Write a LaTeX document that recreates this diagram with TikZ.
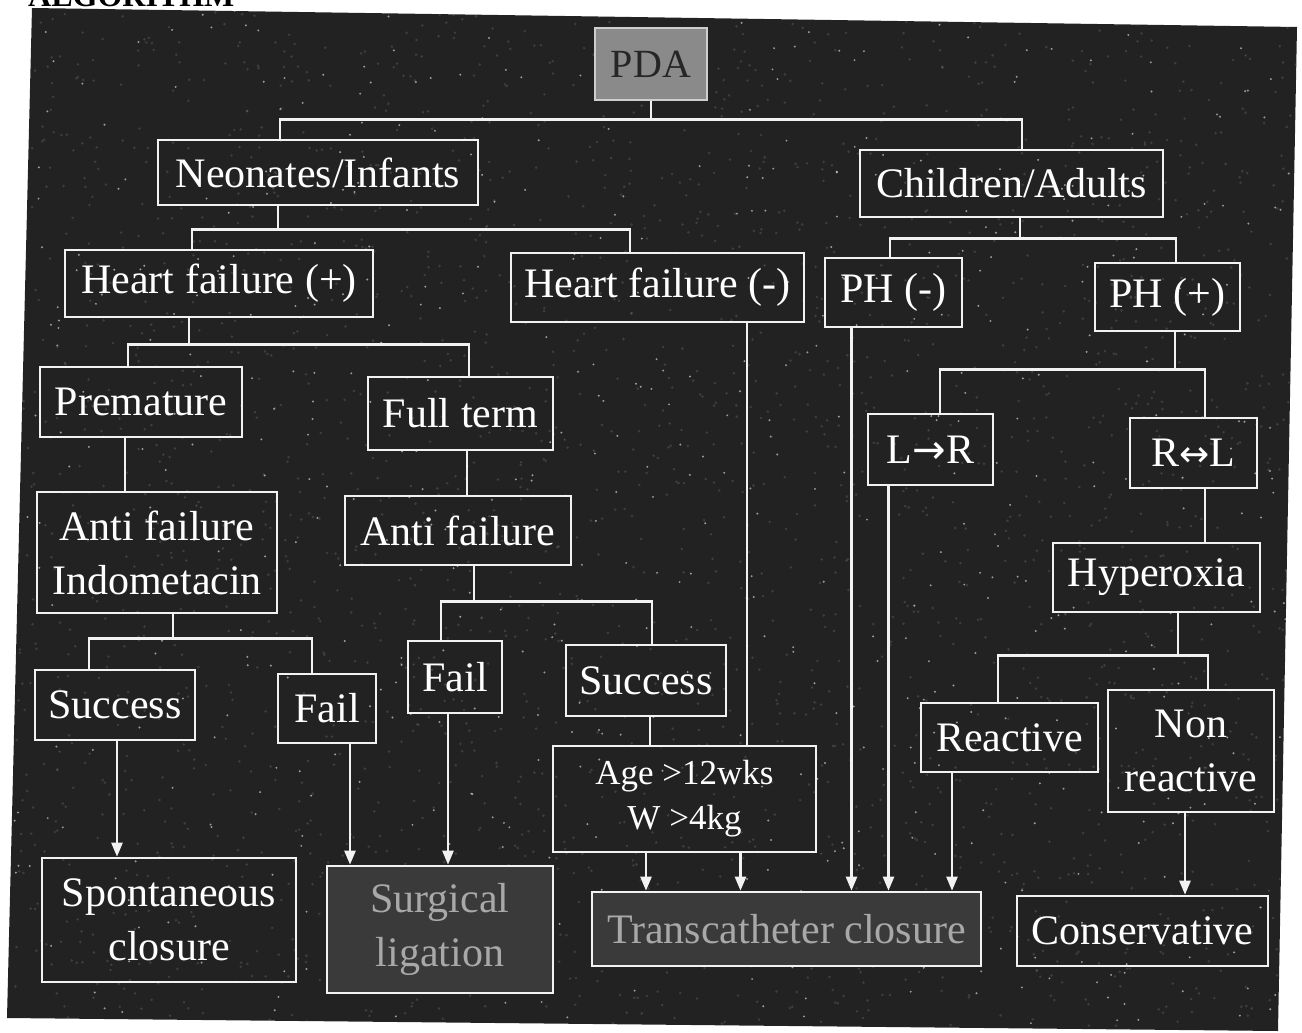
\documentclass[tikz,border=0pt]{standalone}
\usepackage{fontspec}
\setmainfont{Liberation Serif}
\newfontfamily\arrowfont{DejaVu Sans}
\usetikzlibrary{arrows.meta}
\definecolor{panel}{HTML}{222222}
\definecolor{linec}{HTML}{F2F2F2}
\definecolor{pdafill}{HTML}{8A8A8A}
\definecolor{greybox}{HTML}{3A3A3A}
\definecolor{greytext}{HTML}{A8A8A8}
\tikzset{
  box/.style={draw=linec, line width=2.6pt, text=white, inner sep=0pt,
    font=\fontsize{42}{54}\selectfont, align=center},
  smallbox/.style={box, font=\fontsize{35}{45}\selectfont},
  shadebox/.style={box, fill=greybox, text=greytext},
  link/.style={draw=linec, line width=2.4pt},
  arr/.style={link, -{Triangle[length=14pt,width=11pt]}},
  speck/.style={fill=white, opacity=0.55},
  grain/.style={fill=gray, opacity=0.3}
}
\begin{document}
\begin{tikzpicture}[x=1pt,y=-1pt]
\useasboundingbox (0,0) rectangle (1302,1033);

% heading cut off by the page edge
\node[anchor=base west, inner sep=0pt, font=\fontsize{32}{32}\selectfont\bfseries] (title) at (28,7) {ALGORITHM};

% dark panel with its grain
\fill[panel] (32,8) -- (1297,27) -- (1278,1031) -- (7,1018) -- cycle;
\begin{scope}
  \clip (32,8) -- (1297,27) -- (1278,1031) -- (7,1018) -- cycle;
  \pgfmathsetseed{12}
  \foreach \i in {1,...,2600} {\fill[grain] ({10+1290*rnd},{8+1025*rnd}) circle (1.4pt);}
  \foreach \i in {1,...,650} {\fill[speck] ({10+1290*rnd},{8+1025*rnd}) circle (1.1pt);}
\end{scope}

% boxes
\node[box, fill=pdafill, draw=linec!85!black, text=black!85, font=\fontsize{40}{44}\selectfont,
      minimum width=112pt, minimum height=72pt] (pda) at (651,64) {PDA};
\node[box, minimum width=320pt, minimum height=65pt] (neo) at (318,172.5) {Neonates/Infants};
\node[box, minimum width=303pt, minimum height=67pt] (chi) at (1011.5,183.5) {Children/Adults};
\node[box, minimum width=308pt, minimum height=67pt] (hfp) at (219,283.5) {Heart failure (+)};
\node[box, minimum width=293pt, minimum height=69pt] (hfm) at (657.5,287.5) {Heart failure (-)};
\node[box, minimum width=137pt, minimum height=69pt] (phm) at (893.5,292.5) {PH (-)};
\node[box, minimum width=145pt, minimum height=68pt] (php) at (1167.5,297) {PH (+)};
\node[box, minimum width=202pt, minimum height=70pt] (prem) at (141,402) {Premature};
\node[box, minimum width=185pt, minimum height=73pt] (full) at (460.5,413.5) {Full term};
\node[box, minimum width=125pt, minimum height=71pt] (lr) at (930.5,449.5) {L{\arrowfont\fontsize{40}{44}\selectfont →}R};
\node[box, minimum width=127pt, minimum height=70pt] (rl) at (1193.5,453) {R{\arrowfont\fontsize{36}{44}\selectfont ↔}L};
\node[box, minimum width=240pt, minimum height=121pt] (afi) at (157,552.5) {Anti failure\\Indometacin};
\node[box, minimum width=226pt, minimum height=69pt] (af) at (458,530.5) {Anti failure};
\node[box, minimum width=207pt, minimum height=69pt] (hyp) at (1156.5,577.5) {Hyperoxia};
\node[box, minimum width=160pt, minimum height=70pt] (suc1) at (115,705) {Success};
\node[box, minimum width=98pt, minimum height=69pt] (fail1) at (327,708.5) {Fail};
\node[box, minimum width=94pt, minimum height=72pt] (fail2) at (455,677) {Fail};
\node[box, minimum width=160pt, minimum height=71pt] (suc2) at (646,680.5) {Success};
\node[smallbox, minimum width=263pt, minimum height=106pt] (age) at (684.5,799) {Age >12wks\\W >4kg};
\node[box, minimum width=177pt, minimum height=69pt] (react) at (1009.5,737.5) {Reactive};
\node[box, minimum width=166pt, minimum height=122pt] (nonr) at (1191,751) {Non\\reactive};
\node[box, minimum width=254pt, minimum height=124pt] (spon) at (169,920) {Spontaneous\\closure};
\node[shadebox, minimum width=226pt, minimum height=127pt] (surg) at (440,929.5) {Surgical\\ligation};
\node[shadebox, minimum width=389pt, minimum height=74pt] (trans) at (786.5,929) {Transcatheter closure};
\node[box, minimum width=251pt, minimum height=70pt] (cons) at (1142.5,931) {Conservative};

% branching connectors
\draw[link] (pda.south) -- ++(0,18) coordinate (b0);
\draw[link] ([xshift=-38pt]neo.north) |- (b0) -| ([xshift=10.5pt]chi.north);

\draw[link] ([xshift=-40pt]neo.south) -- ++(0,23) coordinate (b1);
\draw[link] ([xshift=-27pt]hfp.north) |- (b1) -| ([xshift=-27.5pt]hfm.north);

\draw[link] ([xshift=8.5pt]chi.south) -- ++(0,20) coordinate (b2);
\draw[link] ([xshift=-3.5pt]phm.north) |- (b2) -| ([xshift=8.5pt]php.north);

\draw[link] ([xshift=-30pt]hfp.south) -- ++(0,26) coordinate (b3);
\draw[link] ([xshift=-13pt]prem.north) |- (b3) -| ([xshift=8.5pt]full.north);

\draw[link] ([xshift=-16pt]prem.south) -- ([xshift=-16pt]prem.south |- afi.north);
\draw[link] ([xshift=6.5pt]full.south) -- ([xshift=6.5pt]full.south |- af.north);

\draw[link] ([xshift=16pt]afi.south) -- ++(0,24) coordinate (b4);
\draw[link] ([xshift=-26pt]suc1.north) |- (b4) -| ([xshift=-15pt]fail1.north);

\draw[link] ([xshift=16pt]af.south) -- ++(0,35) coordinate (b5);
\draw[link] ([xshift=-14pt]fail2.north) |- (b5) -| ([xshift=6pt]suc2.north);

\draw[link] ([xshift=7.5pt]php.south) -- ++(0,37) coordinate (b6);
\draw[link] ([xshift=9.5pt]lr.north) |- (b6) -| ([xshift=11.5pt]rl.north);

\draw[link] ([xshift=11.5pt]rl.south) -- ([xshift=11.5pt]rl.south |- hyp.north);

\draw[link] ([xshift=21.5pt]hyp.south) -- ++(0,42) coordinate (b7);
\draw[link] ([xshift=-11.5pt]react.north) |- (b7) -| ([xshift=17pt]nonr.north);

\draw[link] ([xshift=4pt]suc2.south) -- ([xshift=4pt]suc2.south |- age.north);
\draw[link] ([xshift=89.5pt]hfm.south) -- ([xshift=89.5pt]hfm.south |- age.north);

% arrows into the outcome boxes
\draw[arr] ([xshift=2pt]suc1.south) -- ([xshift=2pt]suc1.south |- spon.north);
\draw[arr] ([xshift=23pt]fail1.south) -- ([xshift=23pt]fail1.south |- surg.north);
\draw[arr] ([xshift=-7pt]fail2.south) -- ([xshift=-7pt]fail2.south |- surg.north);
\draw[arr] ([xshift=-38.5pt]age.south) -- ([xshift=-38.5pt]age.south |- trans.north);
\draw[arr] ([xshift=56pt]age.south) -- ([xshift=56pt]age.south |- trans.north);
\draw[arr] ([xshift=-42pt]phm.south) -- ([xshift=-42pt]phm.south |- trans.north);
\draw[arr] ([xshift=-42pt]lr.south) -- ([xshift=-42pt]lr.south |- trans.north);
\draw[arr] ([xshift=-57.5pt]react.south) -- ([xshift=-57.5pt]react.south |- trans.north);
\draw[arr] ([xshift=-6pt]nonr.south) -- ([xshift=-6pt]nonr.south |- cons.north);
\end{tikzpicture}
\end{document}
